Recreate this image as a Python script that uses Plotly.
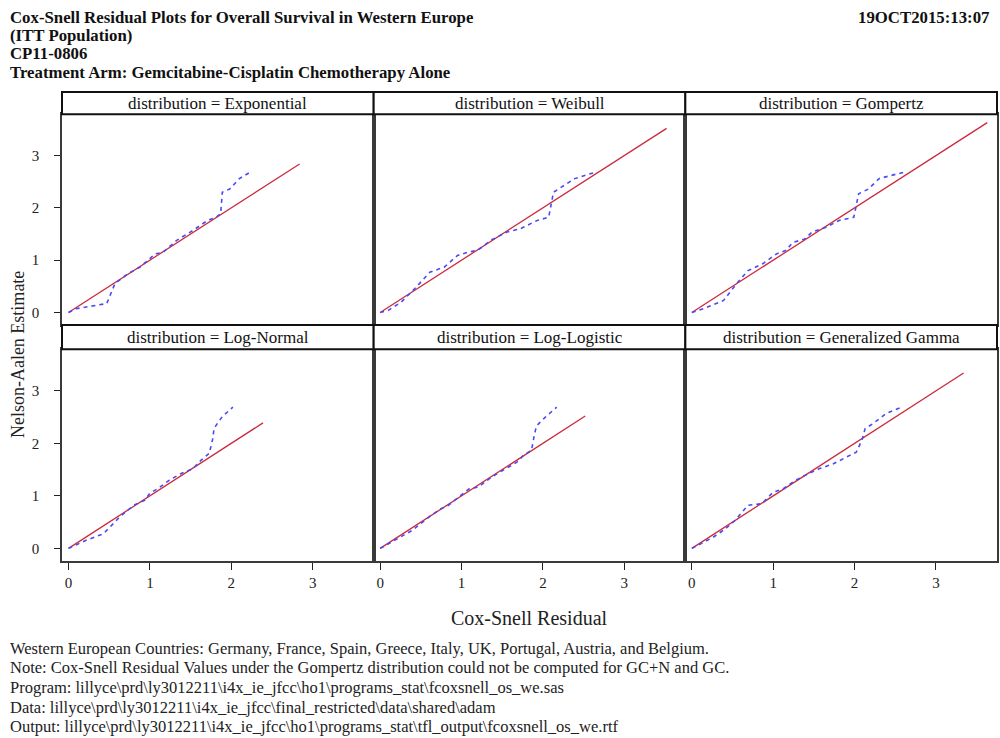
import plotly.graph_objects as go

# ---------------- data ----------------
distributions = ["Exponential", "Weibull", "Gompertz",
                 "Log-Normal", "Log-Logistic", "Generalized Gamma"]

exp_x = [0, 0.09, 0.47, 0.57, 0.72, 0.88, 1.00, 1.06, 1.16, 1.33, 1.53, 1.71, 1.81, 1.87, 1.89, 1.98, 2.10, 2.25]
exp_y = [0, 0.07, 0.17, 0.55, 0.73, 0.87, 1.03, 1.12, 1.15, 1.38, 1.57, 1.76, 1.82, 1.89, 2.30, 2.36, 2.56, 2.70]

wei_x = [0, 0.10, 0.26, 0.44, 0.61, 0.79, 0.95, 1.07, 1.20, 1.36, 1.56, 1.72, 1.93, 2.07, 2.13, 2.21, 2.39, 2.64]
wei_y = [0, 0.04, 0.20, 0.48, 0.77, 0.87, 1.09, 1.15, 1.19, 1.38, 1.54, 1.60, 1.76, 1.82, 2.30, 2.38, 2.56, 2.68]

gom_x = [0, 0.14, 0.39, 0.55, 0.69, 0.87, 1.04, 1.16, 1.24, 1.38, 1.48, 1.65, 1.81, 1.99, 2.05, 2.17, 2.30, 2.60]
gom_y = [0, 0.07, 0.23, 0.55, 0.80, 0.93, 1.12, 1.19, 1.34, 1.40, 1.54, 1.63, 1.76, 1.82, 2.27, 2.36, 2.56, 2.68]

lnorm_x = [0, 0.21, 0.43, 0.63, 0.80, 0.94, 1.00, 1.10, 1.24, 1.39, 1.53, 1.63, 1.73, 1.77, 1.79, 1.89, 2.02]
lnorm_y = [0, 0.15, 0.28, 0.60, 0.82, 0.92, 1.05, 1.14, 1.30, 1.43, 1.52, 1.68, 1.81, 2.07, 2.29, 2.51, 2.69]

llog_x = [0, 0.17, 0.29, 0.39, 0.62, 0.74, 0.84, 1.00, 1.09, 1.21, 1.37, 1.58, 1.68, 1.76, 1.86, 1.89, 1.92, 2.03, 2.17]
llog_y = [0, 0.15, 0.24, 0.34, 0.62, 0.75, 0.82, 1.01, 1.13, 1.17, 1.36, 1.55, 1.64, 1.77, 1.87, 2.12, 2.33, 2.50, 2.69]

gg_x = [0, 0.14, 0.26, 0.41, 0.53, 0.69, 0.86, 1.00, 1.12, 1.27, 1.39, 1.57, 1.74, 1.94, 2.02, 2.09, 2.13, 2.23, 2.39, 2.58]
gg_y = [0, 0.11, 0.21, 0.37, 0.53, 0.82, 0.85, 1.07, 1.13, 1.29, 1.39, 1.52, 1.61, 1.77, 1.83, 2.06, 2.28, 2.38, 2.57, 2.69]

# reference line (y = x) end points per distribution
ref_end = [2.84, 3.52, 3.63, 2.39, 2.52, 3.34]

tick_vals = [0, 1, 2, 3]
tick_text = ["0", "1", "2", "3"]

title_lines = ["Cox-Snell Residual Plots for Overall Survival in Western Europe",
               "(ITT Population)",
               "CP11-0806",
               "Treatment Arm: Gemcitabine-Cisplatin Chemotherapy Alone"]
date_text = "19OCT2015:13:07"
footnotes = [
    "Western European Countries: Germany, France, Spain, Greece, Italy, UK, Portugal, Austria, and Belgium.",
    "Note: Cox-Snell Residual Values under the Gompertz distribution could not be computed for GC+N and GC.",
    "Program: lillyce\\prd\\ly3012211\\i4x_ie_jfcc\\ho1\\programs_stat\\fcoxsnell_os_we.sas",
    "Data: lillyce\\prd\\ly3012211\\i4x_ie_jfcc\\final_restricted\\data\\shared\\adam",
    "Output: lillyce\\prd\\ly3012211\\i4x_ie_jfcc\\ho1\\programs_stat\\tfl_output\\fcoxsnell_os_we.rtf",
]

na_x = [exp_x, wei_x, gom_x, lnorm_x, llog_x, gg_x]
na_y = [exp_y, wei_y, gom_y, lnorm_y, llog_y, gg_y]

# ---------------- layout geometry ----------------
W, H = 1000, 738
ML, MR, MT, MB = 62, 1, 92, 177
ph = H - MT - MB  # 469
pw = W - ML - MR

def py2paper(py):
    return (H - MB - py) / ph

def px2paper(px):
    return (px - ML) / pw

row_plot = [(py2paper(325), py2paper(114.3)), (py2paper(561), py2paper(349.3))]
row_head = [(py2paper(114.3), 1.0), (py2paper(349.3), py2paper(325))]
col_dom = [(0, 1/3), (1/3, 2/3), (2/3, 1.0)]

XR = [-0.08, 3.75]
YR = [-0.24, 3.79]

SERIF = "Liberation Serif, Times New Roman, serif"
BLUE = "#4a4af5"
RED = "#cc2a3a"
FRAME = "#3a3a3a"

fig = go.Figure()
shapes = []
annotations = []

for i, name in enumerate(distributions):
    r, c = divmod(i, 3)
    k = i + 1
    xa = "x" if k == 1 else f"x{k}"
    ya = "y" if k == 1 else f"y{k}"
    fig.add_trace(go.Scatter(x=[0, ref_end[i]], y=[0, ref_end[i]], mode="lines",
                             line=dict(color=RED, width=1.3), xaxis=xa, yaxis=ya,
                             showlegend=False, hoverinfo="skip"))
    fig.add_trace(go.Scatter(x=na_x[i], y=na_y[i], mode="lines",
                             line=dict(color=BLUE, width=1.6, dash="4px,4px"),
                             xaxis=xa, yaxis=ya, showlegend=False))
    xkey = "xaxis" if k == 1 else f"xaxis{k}"
    ykey = "yaxis" if k == 1 else f"yaxis{k}"
    bottom = (r == 1)
    left = (c == 0)
    fig.layout[xkey] = dict(domain=list(col_dom[c]), range=XR, anchor=ya,
                            showgrid=False, zeroline=False,
                            showline=True, mirror=True, linecolor=FRAME, linewidth=1.5,
                            tickvals=tick_vals, ticktext=tick_text,
                            ticks="outside" if bottom else "", ticklen=7, tickcolor="#222",
                            showticklabels=bottom,
                            tickfont=dict(family=SERIF, size=15, color="#222"))
    fig.layout[ykey] = dict(domain=list(row_plot[r]), range=YR, anchor=xa,
                            showgrid=False, zeroline=False,
                            showline=True, mirror=True, linecolor=FRAME, linewidth=1.5,
                            tickvals=tick_vals, ticktext=tick_text,
                            ticks="outside" if left else "", ticklen=6, tickcolor="#222",
                            showticklabels=left, ticklabelstandoff=12,
                            tickfont=dict(family=SERIF, size=15, color="#222"))
    # header strip
    y0, y1 = row_head[r]
    shapes.append(dict(type="rect", xref="paper", yref="paper",
                       x0=col_dom[c][0], x1=col_dom[c][1], y0=y0, y1=y1,
                       line=dict(color="#111", width=2), fillcolor="white", layer="above"))
    annotations.append(dict(xref="paper", yref="paper", x=(col_dom[c][0] + col_dom[c][1]) / 2,
                            y=(y0 + y1) / 2, text=f"distribution = {name}", showarrow=False,
                            xanchor="center", yanchor="middle",
                            font=dict(family=SERIF, size=17, color="#111")))

# axis titles
annotations.append(dict(xref="paper", yref="paper", x=px2paper(530.5),
                        y=py2paper(618), text="Cox-Snell Residual", showarrow=False,
                        xanchor="center", yanchor="middle",
                        font=dict(family=SERIF, size=20, color="#222")))
annotations.append(dict(xref="paper", yref="paper", x=px2paper(18),
                        y=py2paper(355), text="Nelson-Aalen Estimate", showarrow=False,
                        textangle=-90, xanchor="center", yanchor="middle",
                        font=dict(family=SERIF, size=18, color="#222")))

# titles
for j, line in enumerate(title_lines):
    annotations.append(dict(xref="paper", yref="paper", x=px2paper(8),
                            y=py2paper(17 + j * 18.5), text=f"<b>{line}</b>", showarrow=False,
                            xanchor="left", yanchor="middle",
                            font=dict(family=SERIF, size=16.8, color="#111")))
annotations.append(dict(xref="paper", yref="paper", x=px2paper(993),
                        y=py2paper(17), text=f"<b>{date_text}</b>", showarrow=False,
                        xanchor="right", yanchor="middle",
                        font=dict(family=SERIF, size=16.8, color="#111")))

# footnotes
for j, line in enumerate(footnotes):
    annotations.append(dict(xref="paper", yref="paper", x=px2paper(8),
                            y=py2paper(648 + j * 19.7), text=line, showarrow=False,
                            xanchor="left", yanchor="middle",
                            font=dict(family=SERIF, size=16.5, color="#222")))

fig.update_layout(width=W, height=H, margin=dict(l=ML, r=MR, t=MT, b=MB),
                  paper_bgcolor="white", plot_bgcolor="white",
                  shapes=shapes, annotations=annotations, showlegend=False)

fig.write_html("out.html", config={"displayModeBar": False},
               post_script="document.body.style.margin='0px';document.body.style.overflow='hidden';")
